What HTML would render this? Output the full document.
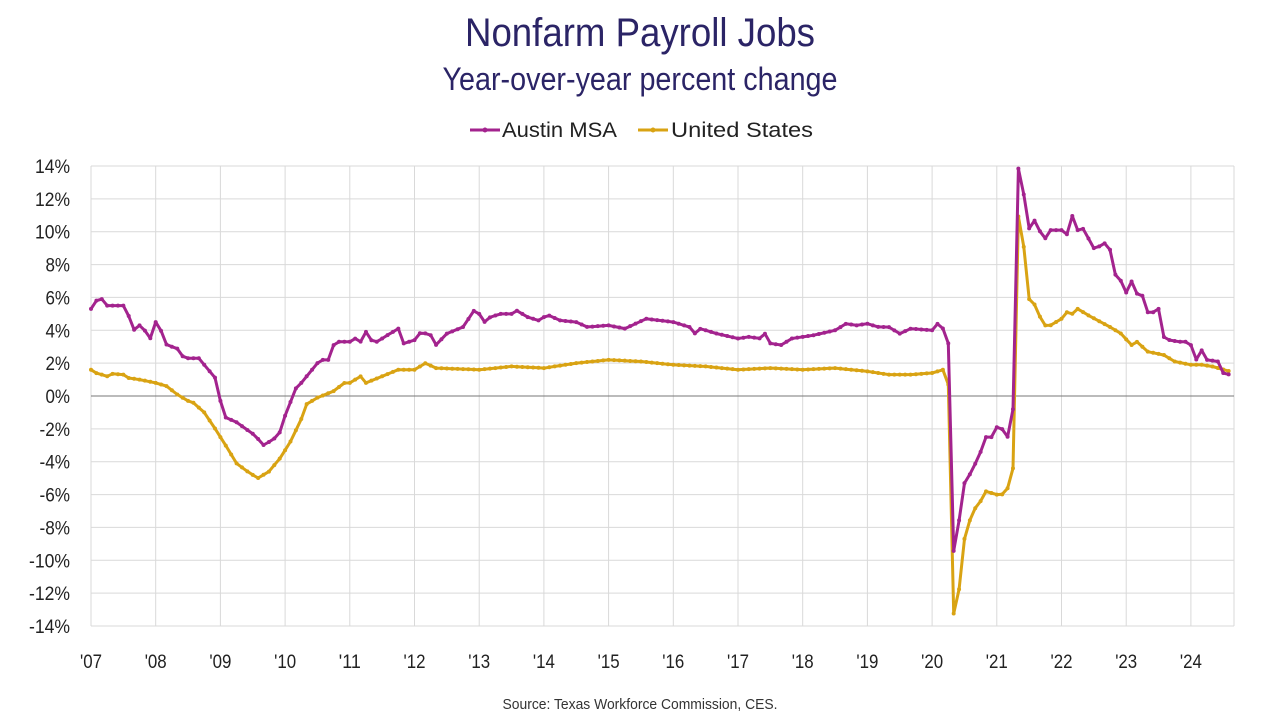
<!DOCTYPE html>
<html><head><meta charset="utf-8"><style>
html,body{margin:0;padding:0;background:#fff;}
body{width:1280px;height:720px;overflow:hidden;font-family:"Liberation Sans",sans-serif;}
</style></head><body>
<svg id="s" width="1280" height="720" xmlns="http://www.w3.org/2000/svg" font-family="Liberation Sans, sans-serif">
<text x="640" y="46" text-anchor="middle" font-size="40" fill="#2b2466" textLength="350" lengthAdjust="spacingAndGlyphs">Nonfarm Payroll Jobs</text>
<text x="640" y="90" text-anchor="middle" font-size="32" fill="#2b2466" textLength="395" lengthAdjust="spacingAndGlyphs">Year-over-year percent change</text>
<line x1="470" y1="130" x2="500" y2="130" stroke="#a3238e" stroke-width="3"/><circle cx="485" cy="130" r="2.5" fill="#a3238e"/>
<text x="502" y="137" font-size="21" fill="#222" textLength="115" lengthAdjust="spacingAndGlyphs">Austin MSA</text>
<line x1="638" y1="130" x2="668" y2="130" stroke="#d9a313" stroke-width="3"/><circle cx="653" cy="130" r="2.5" fill="#d9a313"/>
<text x="671" y="137" font-size="21" fill="#222" textLength="142" lengthAdjust="spacingAndGlyphs">United States</text>
<g id="grid"></g>
<g id="series"></g>
<text x="640" y="709" text-anchor="middle" font-size="15" fill="#333" textLength="275" lengthAdjust="spacingAndGlyphs">Source: Texas Workforce Commission, CES.</text>
</svg>
<script>
var NS="http://www.w3.org/2000/svg",g=document.getElementById('grid'),se=document.getElementById('series');
var X0=91,YW=64.7,XR=1234,Y14=166,YM=626;
function yv(v){return 396-v*(460/28);}
function xt(t){return X0+(t-2007)*YW;}
function el(n,a,p){var e=document.createElementNS(NS,n);for(var k in a)e.setAttribute(k,a[k]);(p||g).appendChild(e);return e;}
for(var v=-14;v<=14;v+=2){var y=yv(v);
 if(v!=0)el('line',{x1:X0,x2:XR,y1:y,y2:y,stroke:'#d9d9d9','stroke-width':1});
 var s=v+'%';var L=String(Math.abs(v)).length*10.5+14+(v<0?6:0);
 var t=el('text',{x:70,y:y+7,'text-anchor':'end','font-size':19,fill:'#222',textLength:L,lengthAdjust:'spacingAndGlyphs'});t.textContent=s;}
for(var yr=2007;yr<=2024;yr++){var x=xt(yr);
 el('line',{x1:x,x2:x,y1:Y14,y2:YM,stroke:'#d9d9d9','stroke-width':1});
 var t=el('text',{x:x,y:668,'text-anchor':'middle','font-size':19,fill:'#222',textLength:22,lengthAdjust:'spacingAndGlyphs'});t.textContent="'"+String(yr).slice(2);}
el('line',{x1:XR,x2:XR,y1:Y14,y2:YM,stroke:'#d9d9d9'});
el('line',{x1:X0,x2:XR,y1:yv(0),y2:yv(0),stroke:'#777','stroke-width':1});
var A=[[2007,5.3],[2007.08,5.8],[2007.17,5.9],[2007.25,5.5],[2007.5,5.5],[2007.58,4.9],[2007.67,4.0],[2007.75,4.3],[2007.83,4.0],[2007.92,3.5],[2008,4.5],[2008.08,4.0],[2008.17,3.1],[2008.33,2.9],[2008.42,2.4],[2008.5,2.3],[2008.67,2.3],[2008.75,1.9],[2008.92,1.1],[2009,-0.3],[2009.08,-1.3],[2009.25,-1.6],[2009.5,-2.3],[2009.58,-2.6],[2009.67,-3.0],[2009.75,-2.8],[2009.83,-2.6],[2009.92,-2.2],[2010,-1.2],[2010.17,0.5],[2010.25,0.8],[2010.5,2.0],[2010.58,2.2],[2010.67,2.2],[2010.75,3.1],[2010.83,3.3],[2011,3.3],[2011.08,3.5],[2011.17,3.3],[2011.25,3.9],[2011.33,3.4],[2011.42,3.3],[2011.58,3.7],[2011.75,4.1],[2011.83,3.2],[2012,3.4],[2012.1,3.9],[2012.25,3.7],[2012.33,3.1],[2012.5,3.8],[2012.75,4.2],[2012.92,5.2],[2013,5.0],[2013.08,4.5],[2013.17,4.8],[2013.33,5.0],[2013.5,5.0],[2013.58,5.2],[2013.75,4.8],[2013.92,4.6],[2014,4.8],[2014.08,4.9],[2014.25,4.6],[2014.5,4.5],[2014.67,4.2],[2015,4.3],[2015.25,4.1],[2015.58,4.7],[2016,4.5],[2016.25,4.2],[2016.33,3.8],[2016.42,4.1],[2016.67,3.8],[2017,3.5],[2017.17,3.6],[2017.33,3.5],[2017.42,3.8],[2017.5,3.2],[2017.67,3.1],[2017.83,3.5],[2018.17,3.7],[2018.5,4.0],[2018.67,4.4],[2018.83,4.3],[2019,4.4],[2019.17,4.2],[2019.33,4.2],[2019.5,3.8],[2019.67,4.1],[2020,4.0],[2020.08,4.4],[2020.17,4.1],[2020.25,3.2],[2020.33,-9.5],[2020.42,-7.5],[2020.5,-5.3],[2020.58,-4.8],[2020.67,-4.1],[2020.75,-3.4],[2020.83,-2.5],[2020.92,-2.5],[2021,-1.9],[2021.08,-2.0],[2021.17,-2.5],[2021.25,-0.8],[2021.33,13.9],[2021.42,12.2],[2021.5,10.2],[2021.58,10.7],[2021.67,10.0],[2021.75,9.6],[2021.83,10.1],[2022,10.1],[2022.08,9.8],[2022.17,11.0],[2022.25,10.1],[2022.33,10.2],[2022.5,9.0],[2022.58,9.1],[2022.67,9.3],[2022.75,8.9],[2022.83,7.4],[2022.92,7.0],[2023,6.3],[2023.08,7.0],[2023.17,6.2],[2023.25,6.1],[2023.33,5.1],[2023.42,5.1],[2023.5,5.3],[2023.58,3.6],[2023.67,3.4],[2023.83,3.3],[2023.92,3.3],[2024,3.1],[2024.08,2.2],[2024.17,2.8],[2024.25,2.2],[2024.42,2.1],[2024.5,1.4],[2024.6,1.3]];
var U=[[2007,1.6],[2007.08,1.4],[2007.25,1.2],[2007.33,1.35],[2007.5,1.3],[2007.58,1.1],[2007.75,1.0],[2008,0.8],[2008.17,0.6],[2008.33,0.1],[2008.5,-0.3],[2008.58,-0.4],[2008.75,-1.0],[2008.92,-2.0],[2009.08,-3.0],[2009.25,-4.1],[2009.42,-4.6],[2009.58,-5.0],[2009.75,-4.6],[2009.92,-3.8],[2010.08,-2.8],[2010.25,-1.4],[2010.33,-0.5],[2010.5,-0.1],[2010.75,0.3],[2010.92,0.8],[2011,0.8],[2011.17,1.2],[2011.25,0.8],[2011.5,1.2],[2011.75,1.6],[2012,1.6],[2012.17,2.0],[2012.33,1.7],[2013,1.6],[2013.5,1.8],[2014,1.7],[2014.5,2.0],[2015,2.2],[2015.5,2.1],[2016,1.9],[2016.5,1.8],[2017,1.6],[2017.5,1.7],[2018,1.6],[2018.5,1.7],[2019,1.5],[2019.33,1.3],[2019.67,1.3],[2020,1.4],[2020.17,1.6],[2020.25,0.7],[2020.33,-13.3],[2020.42,-11.7],[2020.5,-8.7],[2020.58,-7.6],[2020.67,-6.8],[2020.75,-6.4],[2020.83,-5.8],[2021,-6.0],[2021.08,-6.0],[2021.17,-5.6],[2021.25,-4.4],[2021.33,11.0],[2021.42,9.0],[2021.5,5.9],[2021.58,5.6],[2021.67,4.8],[2021.75,4.3],[2021.83,4.3],[2022,4.7],[2022.08,5.1],[2022.17,5.0],[2022.25,5.3],[2022.42,4.9],[2022.75,4.2],[2022.92,3.8],[2023.08,3.1],[2023.17,3.3],[2023.33,2.7],[2023.58,2.5],[2023.75,2.1],[2024,1.9],[2024.17,1.9],[2024.33,1.8],[2024.6,1.5]];
function interp(K,t){for(var i=0;i<K.length-1;i++){if(t<=K[i+1][0]+1e-6){var a=K[i],b=K[i+1];var f=(t-a[0])/(b[0]-a[0]);f=Math.max(0,Math.min(1,f));return a[1]+f*(b[1]-a[1]);}}return K[K.length-1][1];}
function draw(K,c){var pts=[];for(var i=0;i<=211;i++){var t=2007+i/12;pts.push([xt(t),yv(interp(K,t))]);}
 el('polyline',{points:pts.map(p=>p[0].toFixed(1)+','+p[1].toFixed(1)).join(' '),fill:'none',stroke:c,'stroke-width':3,'stroke-linejoin':'round'},se);
 pts.forEach(p=>el('circle',{cx:p[0],cy:p[1],r:2,fill:c},se));}
draw(U,'#d9a313');draw(A,'#a3238e');
</script>
</body></html>
